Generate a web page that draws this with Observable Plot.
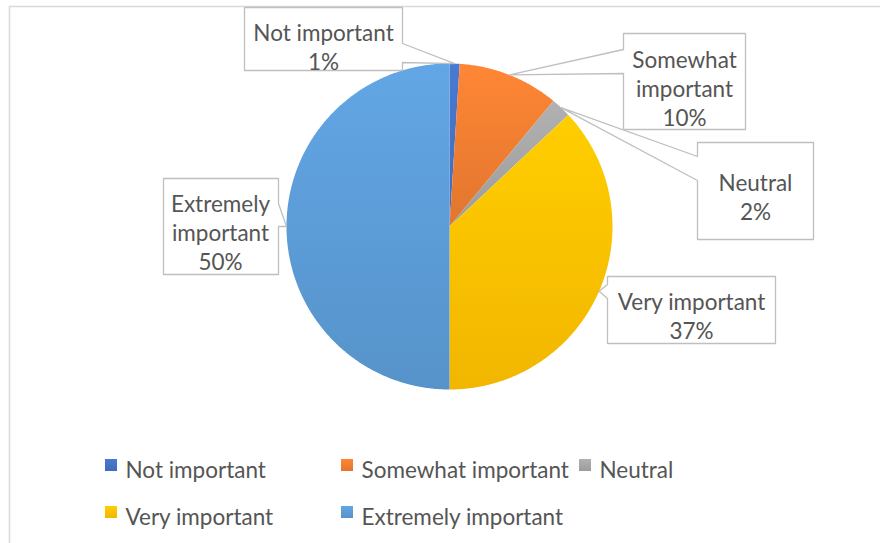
<!DOCTYPE html>
<html><head><meta charset="utf-8">
<script src="https://cdn.jsdelivr.net/npm/d3@7"></script>
<script src="https://cdn.jsdelivr.net/npm/@observablehq/plot@0.6"></script>
<style>body{margin:0;background:#fff} #chart{width:880px;height:543px}</style>
</head><body><div id="chart"></div>
<script>
// ---- data ----
const categories = ["Not important", "Somewhat important", "Neutral", "Very important", "Extremely important"];
const values = [1, 10, 2, 37, 50];
const colors = ["#4472C4", "#ED7D31", "#A5A5A5", "#FFC000", "#5B9BD5"];

// ---- layout (pixels) ----
const W = 880, H = 543;
const pieCenter = [449, 226], pieRadius = 163;
const callouts = [
  {box: [244, 7, 402, 70],   side: "right", base: [43, 62],   text: [323, 46],  wrap: false},
  {box: [623, 33, 745, 129], side: "left",  base: [49, 73],   text: [684, 87],  wrap: true},
  {box: [697, 142, 813, 239], side: "left", base: [156, 180], text: [755, 196], wrap: false},
  {box: [607, 276, 775, 343], side: "left", base: [284, 298], text: [691, 315], wrap: false},
  {box: [163, 178, 278, 274], side: "right", base: [203, 226], text: [220, 231], wrap: true}
];
const legendPos = [[105, 470], [341, 470], [579, 470], [105, 517], [341, 517]];

// ---- geometry from data ----
const total = d3.sum(values);
let acc = 0;
const slices = categories.map((c, i) => {
  const a0 = acc / total * 2 * Math.PI; acc += values[i];
  const a1 = acc / total * 2 * Math.PI;
  return {c, i, a0, a1, mid: (a0 + a1) / 2};
});
const pt = a => [pieCenter[0] + pieRadius * Math.sin(a), pieCenter[1] - pieRadius * Math.cos(a)];
const slicePts = slices.flatMap(s => {
  const n = Math.max(2, Math.ceil((s.a1 - s.a0) / (Math.PI / 360)));
  const pts = [{c: s.c, x: pieCenter[0], y: pieCenter[1]}];
  for (let k = 0; k <= n; k++) {
    const [x, y] = pt(s.a0 + (s.a1 - s.a0) * k / n);
    pts.push({c: s.c, x, y});
  }
  return pts;
});
const calloutPts = callouts.flatMap((co, i) => {
  const [x0, y0, x1, y1] = co.box; const tip = pt(slices[i].mid); const [b0, b1] = co.base;
  const poly = co.side === "right"
    ? [[x0, y0], [x1, y0], [x1, b0], tip, [x1, b1], [x1, y1], [x0, y1]]
    : [[x0, y0], [x1, y0], [x1, y1], [x0, y1], [x0, b1], tip, [x0, b0]];
  return poly.map(([x, y]) => ({i, x, y}));
});
const calloutText = callouts.map((co, i) => ({
  x: co.text[0], y: co.text[1],
  label: (co.wrap ? categories[i].replace(" ", "\n") : categories[i]) + "\n" + values[i] + "%"
}));
const legendData = categories.map((c, i) => ({c, x: legendPos[i][0], y: legendPos[i][1]}));

const plot = Plot.plot({
  width: W, height: H, margin: 0,
  x: {domain: [0, W], range: [0, W], axis: null},
  y: {domain: [0, H], range: [0, H], axis: null},
  color: {domain: categories, range: categories.map((c, i) => `url(#grad${i})`)},
  style: {fontFamily: "Lato, 'Open Sans', sans-serif", background: "#fff"},
  marks: [
    Plot.ruleX([9], {y1: 6, y2: H, stroke: "#d9d9d9", strokeWidth: 1.5}),
    Plot.ruleY([6], {x1: 9, x2: W, stroke: "#d9d9d9", strokeWidth: 1.5}),
    Plot.line(slicePts, {x: "x", y: "y", z: "c", fill: "c", stroke: "none", curve: "linear-closed"}),
    Plot.line(calloutPts, {x: "x", y: "y", z: "i", fill: "white", stroke: "#bfbfbf", strokeWidth: 1.3, curve: "linear-closed"}),
    Plot.text(calloutText, {x: "x", y: "y", text: "label", fill: "#555555", fontSize: 22.5, lineHeight: 1.3}),
    Plot.rect(legendData, {x1: d => d.x, x2: d => d.x + 12, y1: d => d.y - 11, y2: d => d.y + 1, fill: "c"}),
    Plot.text(legendData, {x: d => d.x + 20, y: "y", text: "c", textAnchor: "start", fill: "#555555", fontSize: 22.5})
  ]
});
const defs = d3.select(plot).insert("defs", ":first-child");
colors.forEach((c, i) => {
  const g = defs.append("linearGradient").attr("id", "grad" + i)
    .attr("x1", 0).attr("y1", 0).attr("x2", 0).attr("y2", 1);
  g.append("stop").attr("offset", "0%").attr("stop-color", d3.color(c).brighter(0.2).formatHex());
  g.append("stop").attr("offset", "100%").attr("stop-color", d3.color(c).darker(0.15).formatHex());
});
document.getElementById("chart").appendChild(plot);
</script>
</body></html>
